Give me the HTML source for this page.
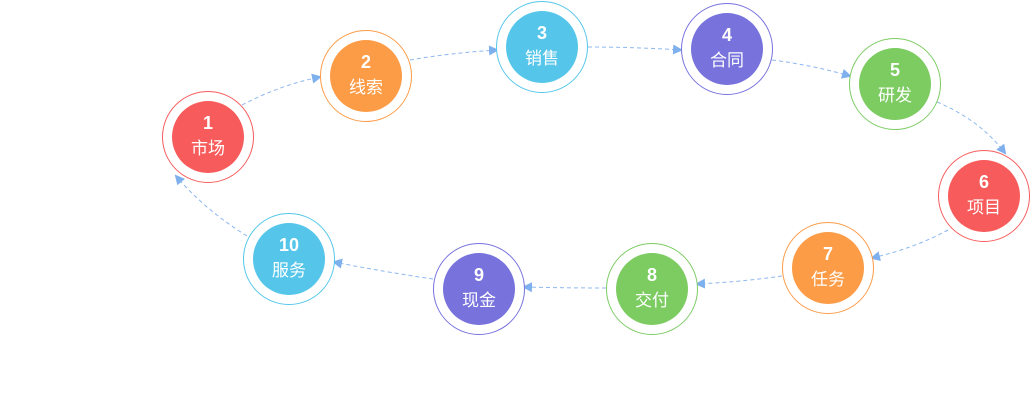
<!DOCTYPE html>
<html><head><meta charset="utf-8"><style>
html,body{margin:0;padding:0;background:#fff;width:1030px;height:418px;overflow:hidden}
text{font-family:"Liberation Sans","Noto Sans CJK SC",sans-serif;fill:#fff;text-anchor:middle}
.n{font-weight:bold;font-size:18px}
.c{font-size:17px}
</style></head><body>
<svg width="1030" height="418" viewBox="0 0 1030 418" xmlns="http://www.w3.org/2000/svg">
<defs><marker id="a" markerWidth="10" markerHeight="10" refX="8" refY="5" orient="auto" markerUnits="userSpaceOnUse"><path d="M0,0 L10,5 L0,10 z" fill="#7fb0ee"/></marker></defs>
<g fill="none" stroke="#8db8f0" stroke-width="1" stroke-dasharray="4,3" marker-end="url(#a)">
<path d="M242,105 Q280,85 320,77"/>
<path d="M410,60 Q450,53 497,50"/>
<path d="M588,47 Q635,47 681,50"/>
<path d="M772,60 Q812,65 850,76"/>
<path d="M937,102 Q980,120 1005,153"/>
<path d="M948,230 Q915,248 872,258"/>
<path d="M782,276 Q740,282 697,284"/>
<path d="M606,288 Q565,288 524,287"/>
<path d="M433,279 Q385,272 334,262"/>
<path d="M247,236 Q205,210 176,176"/>
</g>
<g>
<circle cx="208" cy="137" r="45.5" fill="#fff" stroke="#f75b5b"/><circle cx="208" cy="137" r="36" fill="#f75b5b"/>
<text class="n" x="208" y="129">1</text><text class="c" x="208" y="154">市场</text>
<circle cx="366" cy="76" r="45.5" fill="#fff" stroke="#fd9c47"/><circle cx="366" cy="76" r="36" fill="#fd9c47"/>
<text class="n" x="366" y="68">2</text><text class="c" x="366" y="93">线索</text>
<circle cx="542" cy="47" r="45.5" fill="#fff" stroke="#55c6ea"/><circle cx="542" cy="47" r="36" fill="#55c6ea"/>
<text class="n" x="542" y="39">3</text><text class="c" x="542" y="64">销售</text>
<circle cx="727" cy="49" r="45.5" fill="#fff" stroke="#7772dc"/><circle cx="727" cy="49" r="36" fill="#7772dc"/>
<text class="n" x="727" y="41">4</text><text class="c" x="727" y="66">合同</text>
<circle cx="895" cy="84" r="45.5" fill="#fff" stroke="#7ccc62"/><circle cx="895" cy="84" r="36" fill="#7ccc62"/>
<text class="n" x="895" y="76">5</text><text class="c" x="895" y="101">研发</text>
<circle cx="984" cy="196" r="45.5" fill="#fff" stroke="#f75b5b"/><circle cx="984" cy="196" r="36" fill="#f75b5b"/>
<text class="n" x="984" y="188">6</text><text class="c" x="984" y="213">项目</text>
<circle cx="828" cy="268" r="45.5" fill="#fff" stroke="#fd9c47"/><circle cx="828" cy="268" r="36" fill="#fd9c47"/>
<text class="n" x="828" y="260">7</text><text class="c" x="828" y="285">任务</text>
<circle cx="652" cy="289" r="45.5" fill="#fff" stroke="#7ccc62"/><circle cx="652" cy="289" r="36" fill="#7ccc62"/>
<text class="n" x="652" y="281">8</text><text class="c" x="652" y="306">交付</text>
<circle cx="479" cy="289" r="45.5" fill="#fff" stroke="#7772dc"/><circle cx="479" cy="289" r="36" fill="#7772dc"/>
<text class="n" x="479" y="281">9</text><text class="c" x="479" y="306">现金</text>
<circle cx="289" cy="259" r="45.5" fill="#fff" stroke="#55c6ea"/><circle cx="289" cy="259" r="36" fill="#55c6ea"/>
<text class="n" x="289" y="251">10</text><text class="c" x="289" y="276">服务</text>
</g>
</svg>
</body></html>
